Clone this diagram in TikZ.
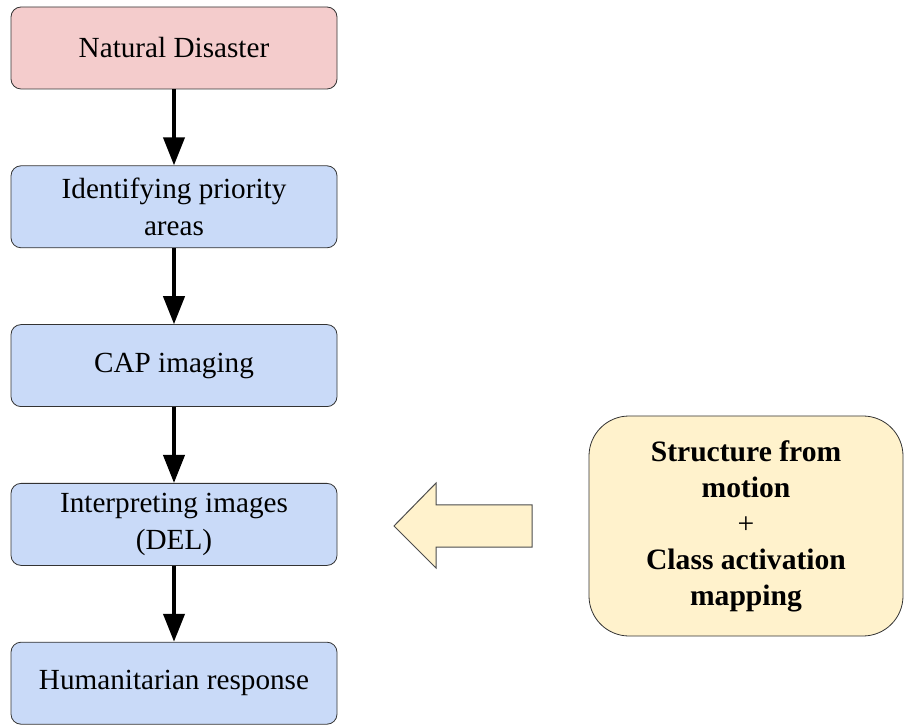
\documentclass[tikz,border=0pt]{standalone}
\usepackage{fontspec}
\setmainfont{Liberation Serif}
\usetikzlibrary{positioning,arrows.meta}
\definecolor{disasterpink}{HTML}{F4CCCC}
\definecolor{stepblue}{HTML}{C9DAF8}
\definecolor{methodyellow}{HTML}{FFF2CC}

\begin{document}
\begin{tikzpicture}[
			x=0.5pt, y=-0.5pt,
			node distance=38pt,
			stepbox/.style = {rectangle, rounded corners=5pt, draw=black!80,% boxes of the main flow
				fill=stepblue, minimum width=163pt, minimum height=41pt,
				inner sep=2pt, align=center,
				font=\fontsize{14.6}{18.5}\selectfont},
			flow/.style = {-{Triangle[length=14pt,width=10.5pt]}, line width=2pt},
			method/.style = {rectangle, rounded corners=20pt, draw=black!80,
				fill=methodyellow, minimum width=157pt, minimum height=110pt,
				align=center, font=\fontsize{14.8}{18}\selectfont\bfseries},
			]
			\useasboundingbox (0,0) rectangle (904,726);
			% main flow, top to bottom
			\node[stepbox, fill=disasterpink] (nd) at (174,48) {Natural Disaster};
			\node[stepbox, below=of nd] (ipa) {Identifying priority\\areas};
			\node[stepbox, below=of ipa] (cap) {CAP imaging};
			\node[stepbox, below=of cap] (del) {Interpreting images\\(DEL)};
			\node[stepbox, below=of del] (hr) {Humanitarian response};
			\draw[flow] (nd) -- (ipa);
			\draw[flow] (ipa) -- (cap);
			\draw[flow] (cap) -- (del);
			\draw[flow] (del) -- (hr);
			% method box and its block arrow
			\node[method] (sfm) at (746,526) {Structure from\\motion\\{\mdseries+}\\Class activation\\mapping};
			\draw[draw=black!70, line width=0.5pt, fill=methodyellow]
				(394,526) -- (436,483) -- (436,505) -- (532,505)
				-- (532,547) -- (436,547) -- (436,568) -- cycle;
		\end{tikzpicture}
\end{document}
